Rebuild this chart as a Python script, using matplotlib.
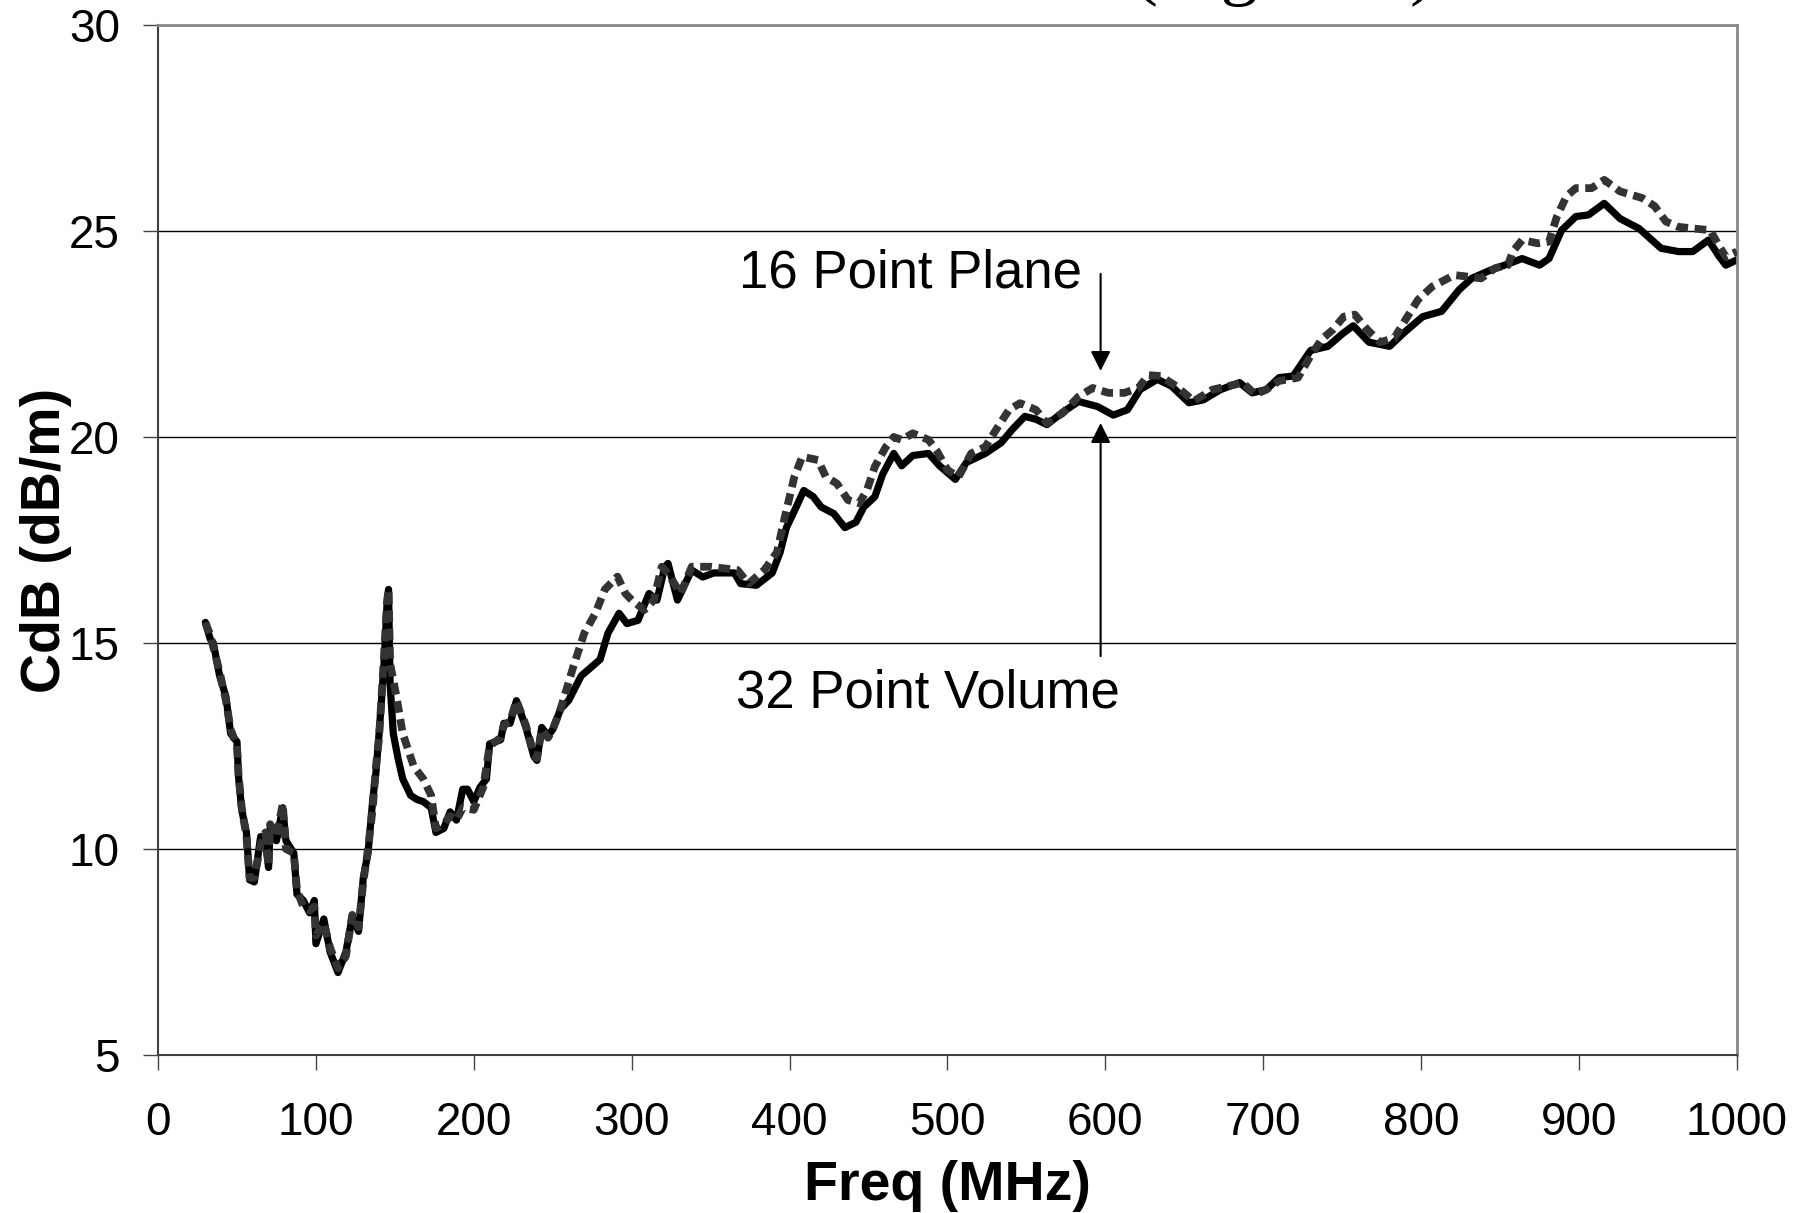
import matplotlib
matplotlib.use("Agg")
import matplotlib.pyplot as plt

plt.rcParams['font.family'] = ['Liberation Sans', 'DejaVu Sans']

# 32 point volume average (solid)
vol_freq = [30, 33, 35, 39, 43, 46, 50, 51, 53, 56, 58, 61, 65, 68, 70, 71, 75, 79, 81,
            86, 88, 92, 96, 99, 100, 105, 109, 114, 119, 123, 127, 130, 133, 136, 138,
            140, 143, 145, 146, 147, 149, 152, 155, 160, 164, 168, 173, 176, 181, 185,
            189, 193, 196, 200, 204, 208, 210, 217, 219, 223, 227, 233, 238, 240, 243,
            247, 250, 255, 260, 268, 280, 285, 292, 297, 304, 311, 316, 321, 323, 329,
            338, 345, 352, 365, 369, 379, 389, 394, 398, 403, 409, 415, 420, 428, 435,
            442, 447, 454, 459, 466, 471, 478, 488, 495, 505, 512, 524, 534, 541, 549,
            556, 563, 573, 583, 595, 605, 614, 622, 633, 642, 653, 662, 673, 685, 693,
            702, 710, 719, 730, 741, 750, 757, 767, 780, 790, 801, 813, 824, 832, 844,
            855, 864, 875, 881, 889, 898, 906, 916, 926, 938, 952, 963, 972, 982, 989,
            993, 1000]
vol_cdb = [15.5, 15.1, 15.0, 14.2, 13.7, 12.8, 12.6, 11.75, 10.95, 10.4, 9.25, 9.2, 10.3,
           10.2, 9.55, 10.5, 10.2, 11.0, 10.2, 9.9, 8.9, 8.75, 8.45, 8.75, 7.7, 8.3, 7.5,
           7.0, 7.5, 8.35, 8.0, 9.3, 9.9, 11.2, 11.85, 12.8, 14.4, 15.9, 16.3, 14.0,
           12.8, 12.2, 11.7, 11.3, 11.2, 11.15, 11.0, 10.4, 10.5, 10.9, 10.7, 11.45,
           11.45, 11.15, 11.5, 11.7, 12.55, 12.65, 13.05, 13.05, 13.6, 12.95, 12.25,
           12.15, 12.95, 12.75, 12.9, 13.4, 13.6, 14.2, 14.6, 15.24, 15.72, 15.47, 15.55,
           16.2, 16.04, 16.85, 16.93, 16.04, 16.77, 16.6, 16.7, 16.7, 16.44, 16.4, 16.7,
           17.2, 17.8, 18.2, 18.7, 18.55, 18.3, 18.14, 17.8, 17.93, 18.3, 18.55, 19.1,
           19.6, 19.3, 19.55, 19.6, 19.3, 18.97, 19.38, 19.6, 19.86, 20.18, 20.5, 20.43,
           20.3, 20.6, 20.86, 20.74, 20.53, 20.66, 21.15, 21.4, 21.23, 20.83, 20.9,
           21.15, 21.32, 21.07, 21.15, 21.44, 21.48, 22.1, 22.2, 22.5, 22.7, 22.3, 22.2,
           22.56, 22.92, 23.05, 23.57, 23.85, 24.05, 24.2, 24.33, 24.17, 24.33, 25.02,
           25.35, 25.39, 25.67, 25.3, 25.06, 24.58, 24.5, 24.5, 24.78, 24.37, 24.17,
           24.3]

# 16 point plane average (dashed)
plane_freq = [30, 33, 35, 39, 43, 46, 50, 51, 53, 56, 58, 61, 65, 68, 70, 71, 75, 79, 81,
              86, 88, 92, 96, 99, 100, 105, 109, 114, 119, 123, 127, 130, 133, 136, 138,
              140, 143, 145, 146, 147, 151, 155, 162, 168, 173, 176, 181, 185, 189, 193,
              200, 206, 210, 217, 219, 223, 227, 233, 238, 240, 243, 247, 250, 255, 263,
              270, 277, 283, 291, 296, 300, 308, 314, 319, 323, 331, 338, 350, 367, 374,
              384, 392, 397, 403, 408, 418, 423, 430, 437, 444, 449, 454, 461, 466, 471,
              478, 488, 493, 500, 507, 515, 524, 532, 539, 546, 556, 563, 573, 583, 592,
              602, 612, 621, 627, 635, 645, 656, 668, 682, 687, 695, 702, 710, 722, 730,
              737, 744, 751, 758, 766, 774, 783, 790, 798, 807, 821, 830, 838, 847, 855,
              858, 864, 874, 881, 886, 892, 898, 908, 916, 926, 940, 948, 955, 963, 975,
              983, 989, 993, 1000]
plane_cdb = [15.5, 15.2, 14.9, 14.3, 13.6, 12.9, 12.5, 11.8, 11.0, 10.3, 9.3, 9.3, 10.1,
             10.4, 9.6, 10.6, 10.3, 11.1, 10.0, 9.9, 9.0, 8.6, 8.5, 8.6, 7.9, 8.2, 7.6,
             7.1, 7.4, 8.4, 8.1, 9.2, 10.0, 11.0, 12.0, 12.7, 14.6, 16.0, 16.3, 14.5,
             13.7, 12.8, 12.0, 11.7, 11.3, 10.5, 10.6, 10.8, 10.7, 11.0, 10.95, 11.5,
             12.5, 12.7, 13.0, 13.1, 13.6, 13.0, 12.3, 12.2, 12.9, 12.7, 12.9, 13.4,
             14.42, 15.24, 15.72, 16.3, 16.61, 16.2, 16.04, 15.8, 16.04, 16.85, 16.69,
             16.2, 16.85, 16.85, 16.77, 16.44, 16.77, 17.2, 18.06, 19.03, 19.52, 19.44,
             19.03, 18.87, 18.47, 18.39, 18.71, 19.28, 19.76, 20.0, 19.93, 20.09, 19.93,
             19.68, 19.2, 19.03, 19.6, 19.76, 20.25, 20.66, 20.82, 20.66, 20.33, 20.58,
             20.98, 21.19, 21.07, 21.07, 21.19, 21.5, 21.48, 21.23, 20.87, 21.15, 21.27,
             21.32, 21.03, 21.15, 21.36, 21.44, 21.97, 22.37, 22.6, 22.92, 22.97, 22.6,
             22.3, 22.4, 22.84, 23.33, 23.65, 23.93, 23.89, 23.85, 24.1, 24.17, 24.5,
             24.78, 24.7, 24.74, 25.35, 25.84, 26.04, 26.04, 26.24, 25.96, 25.8, 25.6,
             25.23, 25.1, 25.05, 25.02, 24.62, 24.37, 24.5]

xticks = list(range(0, 1001, 100))
yticks = [5, 10, 15, 20, 25, 30]

fig = plt.figure(figsize=(18.04, 12.13), dpi=100)
ax = fig.add_axes([0.0876, 0.1303, 0.8752, 0.8491])

for y in yticks[1:]:
    ax.axhline(y, color='black', lw=1.0, zorder=1)

ax.plot(plane_freq, plane_cdb, color='#333333', lw=5.6, dashes=(1.5, 0.85),
        solid_capstyle='butt', dash_capstyle='butt', zorder=3)
ax.plot(vol_freq, vol_cdb, color='black', lw=5.2, solid_joinstyle='round',
        solid_capstyle='round', zorder=2)

ax.set_xlim(0, 1000)
ax.set_ylim(5, 30)
ax.set_xticks(xticks)
ax.set_yticks(yticks)
ax.tick_params(axis='both', labelsize=33, direction='out', width=1.0, color='#444444')
ax.tick_params(axis='x', length=11, pad=22)
ax.tick_params(axis='y', length=10.5, pad=17)

for side in ['left', 'bottom']:
    ax.spines[side].set_color('#404040')
    ax.spines[side].set_linewidth(1.5)
for side in ['right', 'top']:
    ax.spines[side].set_color('#888888')
    ax.spines[side].set_linewidth(2.0)

ax.set_xlabel('Freq (MHz)', fontsize=40, fontweight='bold', labelpad=11)
ax.set_ylabel('CdB (dB/m)', fontsize=40, fontweight='bold', labelpad=-2)

# arrows marking the two curves at 600 MHz
arrow = dict(arrowstyle='-|>', color='black', lw=1.5, mutation_scale=30,
             shrinkA=0, shrinkB=0)
ax.annotate('', xy=(597, 21.6), xytext=(597, 23.96), arrowprops=arrow, zorder=5)
ax.annotate('', xy=(597, 20.34), xytext=(597, 14.68), arrowprops=arrow, zorder=5)
ax.text(368, 23.64, '16 Point Plane', fontsize=38, va='baseline', ha='left')
ax.text(366, 13.43, '32 Point Volume', fontsize=38, va='baseline', ha='left')

# heading sits above the top edge, only its lower part shows
fig.text(0.628, 1 + 9 / 1213, '(Figure 5)', fontsize=54, family='Liberation Serif',
         ha='left', va='baseline')

fig.savefig('out.png', dpi=100)
